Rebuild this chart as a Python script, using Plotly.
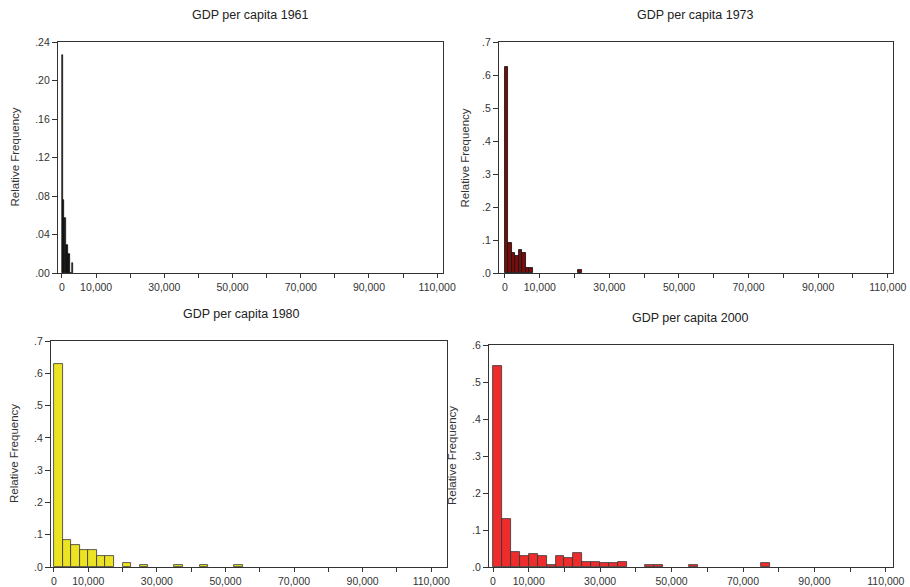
import plotly.graph_objects as go

# ---------------- data ----------------
# 1961: bin width 350, starting at 0
bins_1961 = [0, 350, 700, 1050, 1400, 1750, 2100, 2450, 2800]
freq_1961 = [0.227, 0.076, 0.057, 0.029, 0.029, 0.020, 0.020, 0.0, 0.010]
width_1961 = 350

# 1973: bin width 1000
bins_1973 = [0, 1000, 2000, 3000, 4000, 5000, 6000, 7000, 21000]
freq_1973 = [0.625, 0.091, 0.061, 0.051, 0.069, 0.061, 0.015, 0.015, 0.008]
width_1973 = 1000

# 1980: bin width 2500
bins_1980 = [0, 2500, 5000, 7500, 10000, 12500, 15000, 20000, 25000, 35000, 42500, 52500]
freq_1980 = [0.629, 0.083, 0.068, 0.054, 0.054, 0.033, 0.033, 0.013, 0.006, 0.006, 0.006, 0.006]
width_1980 = 2500

# 2000: bin width 2500
bins_2000 = [0, 2500, 5000, 7500, 10000, 12500, 15000, 17500, 20000, 22500, 25000,
             27500, 30000, 32500, 35000, 42500, 45000, 55000, 75000]
freq_2000 = [0.542, 0.130, 0.040, 0.030, 0.035, 0.030, 0.005, 0.030, 0.024, 0.039,
             0.014, 0.014, 0.010, 0.010, 0.014, 0.005, 0.005, 0.005, 0.010]
width_2000 = 2500

titles = ["GDP per capita 1961", "GDP per capita 1973", "GDP per capita 1980", "GDP per capita 2000"]
y_title = "Relative Frequency"

x_tickvals = [0, 10000, 20000, 30000, 40000, 50000, 60000, 70000, 80000, 90000, 100000, 110000]
x_ticktext = ["0", "10,000", "", "30,000", "", "50,000", "", "70,000", "", "90,000", "", "110,000"]

y_ticks_1961 = [0, 0.04, 0.08, 0.12, 0.16, 0.20, 0.24]
y_text_1961 = [".00", ".04", ".08", ".12", ".16", ".20", ".24"]
y_ticks_7 = [0, 0.1, 0.2, 0.3, 0.4, 0.5, 0.6, 0.7]
y_text_7 = [".0", ".1", ".2", ".3", ".4", ".5", ".6", ".7"]
y_ticks_6 = [0, 0.1, 0.2, 0.3, 0.4, 0.5, 0.6]
y_text_6 = [".0", ".1", ".2", ".3", ".4", ".5", ".6"]

# ---------------- layout geometry (pixels) ----------------
W, H = 910, 587
panels = [
    dict(l=58, r=443, t=42, b=273, xr=[-1170, 111700], yr=[0, 0.24],
         yt=y_ticks_1961, ytx=y_text_1961, tx=250, ty=15, yl=14),
    dict(l=499, r=893, t=42, b=273, xr=[-1720, 111500], yr=[0, 0.7],
         yt=y_ticks_7, ytx=y_text_7, tx=695, ty=15, yl=464),
    dict(l=51, r=447, t=341, b=567, xr=[-870, 114600], yr=[0, 0.7],
         yt=y_ticks_7, ytx=y_text_7, tx=241, ty=314, yl=14),
    dict(l=489, r=893, t=345, b=567, xr=[-1120, 112000], yr=[0, 0.6],
         yt=y_ticks_6, ytx=y_text_6, tx=690, ty=318, yl=452),
]

series = [
    (bins_1961, freq_1961, width_1961, "#231f20", "#000000", 0.6),
    (bins_1973, freq_1973, width_1973, "#7a0c0c", "#1a1a1a", 0.9),
    (bins_1980, freq_1980, width_1980, "#ece422", "#333333", 0.8),
    (bins_2000, freq_2000, width_2000, "#ee2c2c", "#333333", 0.8),
]

FONT = "Liberation Sans, Arial, sans-serif"
fig = go.Figure()
layout = dict(width=W, height=H, margin=dict(l=0, r=0, t=0, b=0, autoexpand=False),
              paper_bgcolor="white", plot_bgcolor="white", showlegend=False,
              font=dict(family=FONT, color="#333333"), bargap=0)
annotations = []

for i, (p, s) in enumerate(zip(panels, series)):
    n = i + 1
    xa = "x" if n == 1 else f"x{n}"
    ya = "y" if n == 1 else f"y{n}"
    bins, freq, w, fill, line, lw = s
    fig.add_trace(go.Bar(x=bins, y=freq, width=[w] * len(bins), offset=0,
                         marker=dict(color=fill, line=dict(color=line, width=lw)),
                         xaxis=xa, yaxis=ya, hoverinfo="x+y"))
    xkey = "xaxis" if n == 1 else f"xaxis{n}"
    ykey = "yaxis" if n == 1 else f"yaxis{n}"
    layout[xkey] = dict(domain=[p["l"] / W, p["r"] / W], range=p["xr"], anchor=ya,
                        automargin=False,
                        tickmode="array", tickvals=x_tickvals, ticktext=x_ticktext,
                        ticks="outside", ticklen=4, tickwidth=1, tickcolor="#333333",
                        showline=True, linecolor="#333333", linewidth=1.3, mirror=True,
                        showgrid=False, zeroline=False,
                        tickfont=dict(size=10.5, color="#333333", family=FONT))
    layout[ykey] = dict(domain=[1 - p["b"] / H, 1 - p["t"] / H], range=p["yr"], anchor=xa,
                        automargin=False,
                        tickmode="array", tickvals=p["yt"], ticktext=p["ytx"],
                        ticks="outside", ticklen=5, tickwidth=1, tickcolor="#333333",
                        showline=True, linecolor="#333333", linewidth=1.3, mirror=True,
                        showgrid=False, zeroline=False,
                        tickfont=dict(size=10.5, color="#333333", family=FONT))
    annotations.append(dict(text=titles[i], x=p["tx"] / W, y=1 - p["ty"] / H,
                            xref="paper", yref="paper", showarrow=False,
                            xanchor="center", yanchor="middle",
                            font=dict(size=12.5, color="#222222", family=FONT)))
    annotations.append(dict(text=y_title, x=p["yl"] / W, y=1 - ((p["t"] + p["b"]) / 2) / H,
                            xref="paper", yref="paper", showarrow=False, textangle=-90,
                            xanchor="center", yanchor="middle",
                            font=dict(size=11.5, color="#333333", family=FONT)))

layout["annotations"] = annotations
fig.update_layout(**layout)
fig.write_html("out.html")
